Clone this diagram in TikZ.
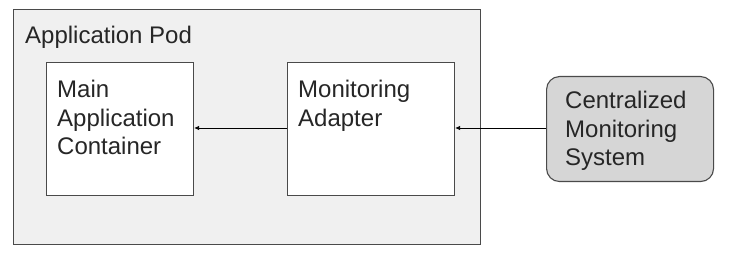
\documentclass[tikz,border=0pt]{standalone}
\usepackage{fontspec}
\setmainfont{Liberation Sans}
\usetikzlibrary{arrows.meta}
\definecolor{edge}{HTML}{4A4A4A}
\definecolor{podfill}{HTML}{F0F0F0}
\definecolor{sysfill}{HTML}{D6D6D6}
\definecolor{txt}{HTML}{262626}
\tikzset{
  podbox/.style={draw=edge, line width=1.1pt, fill=podfill, inner sep=0, anchor=north west},
  whitebox/.style={draw=edge, line width=1.1pt, fill=white, inner sep=0, anchor=north west},
  sysbox/.style={draw=edge, line width=1.1pt, fill=sysfill, rounded corners=13pt, inner sep=0, anchor=north west},
  lbl/.style={inner sep=0, anchor=north west, align=left, text=txt, font=\fontsize{24}{28.5}\selectfont},
  flow/.style={draw=black, line width=0.8pt, -{Latex[length=5pt,width=4.5pt]}}
}
\begin{document}
\begin{tikzpicture}[x=1pt,y=-1pt]
\useasboundingbox (0,0) rectangle (732,253);
\node[podbox, minimum width=467pt, minimum height=235pt] (pod) at (13,9) {};
\node[lbl] (podlbl) at (25,26) {Application Pod};
\node[whitebox, minimum width=147pt, minimum height=133pt] (main) at (46,62) {};
\node[lbl] (mainlbl) at ([xshift=11pt,yshift=-18pt]main.north west) {Main\\Application\\Container};
\node[whitebox, minimum width=167pt, minimum height=133pt] (adapter) at (287,62) {};
\node[lbl] (adaptlbl) at ([xshift=11pt,yshift=-18pt]adapter.north west) {Monitoring\\Adapter};
\node[sysbox, minimum width=167pt, minimum height=105pt] (sys) at (546,76) {};
\node[lbl] (syslbl) at ([xshift=19pt,yshift=-15pt]sys.north west) {Centralized\\Monitoring\\System};
\draw[flow] (adapter.west |- 0,128) -- (main.east |- 0,128);
\draw[flow] (sys.west |- 0,128) -- (adapter.east |- 0,128);
\end{tikzpicture}
\end{document}
